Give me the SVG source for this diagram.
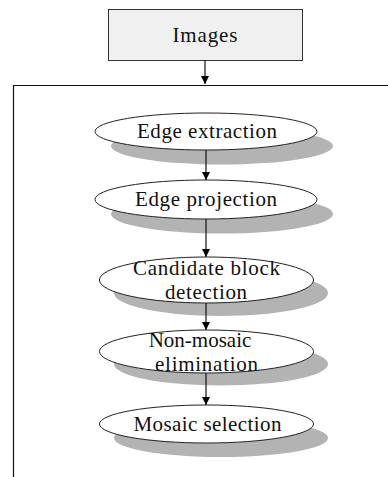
<svg xmlns="http://www.w3.org/2000/svg" width="388" height="477" viewBox="0 0 388 477">
<defs>
<style>
.lbl{font-family:"Liberation Serif","Times New Roman",serif;font-size:21px;fill:#111;text-anchor:middle}
.ell{fill:#fff;stroke:#222;stroke-width:1}
.shd{fill:#b3b3b3;stroke:none}
.ln{stroke:#111;stroke-width:1.2;fill:none}
</style>
<marker id="ah" viewBox="0 0 10 10" refX="10" refY="5" markerWidth="8" markerHeight="10" markerUnits="userSpaceOnUse" orient="auto">
<path d="M0,0 L10,5 L0,10 Z" fill="#000"/>
</marker>
</defs>
<rect width="388" height="477" fill="#fff"/>
<g id="frame">
<path class="ln" d="M13.5,477 L13.5,85.5 L388,85.5" stroke-width="1.5"/>
</g>
<g id="images">
<rect x="108.5" y="9.5" width="194" height="51" fill="#f0f0f0" stroke="#333" stroke-width="1"/>
<text class="lbl" x="205" y="42" textLength="65" lengthAdjust="spacing">Images</text>
</g>
<g id="shadows">
<ellipse class="shd" cx="222" cy="146" rx="111" ry="18.5"/>
<ellipse class="shd" cx="222" cy="214" rx="111" ry="19.5"/>
<ellipse class="shd" cx="221" cy="293" rx="107" ry="23"/>
<ellipse class="shd" cx="221" cy="364" rx="107" ry="21.5"/>
<ellipse class="shd" cx="221" cy="438" rx="107" ry="19"/>
</g>
<g id="n1">
<ellipse class="ell" cx="206" cy="131.5" rx="111" ry="18.5"/>
<text class="lbl" x="207" y="138" textLength="140" lengthAdjust="spacing">Edge extraction</text>
</g>
<g id="n2">
<ellipse class="ell" cx="206" cy="199.5" rx="111" ry="19.5"/>
<text class="lbl" x="206" y="206" textLength="142" lengthAdjust="spacing">Edge projection</text>
</g>
<g id="n3">
<ellipse class="ell" cx="206.5" cy="280" rx="107" ry="23"/>
<text class="lbl" x="206.5" y="275" textLength="147" lengthAdjust="spacing">Candidate block</text>
<text class="lbl" x="206" y="299" textLength="82" lengthAdjust="spacing">detection</text>
</g>
<g id="n4">
<ellipse class="ell" cx="206.5" cy="351.5" rx="107" ry="21.5"/>
<text class="lbl" x="200" y="347">Non-mosaic</text>
<text class="lbl" x="206.5" y="371" textLength="103" lengthAdjust="spacing">elimination</text>
</g>
<g id="n5">
<ellipse class="ell" cx="206.5" cy="424" rx="107" ry="19"/>
<text class="lbl" x="207.5" y="431" textLength="148" lengthAdjust="spacing">Mosaic selection</text>
</g>
<g id="connectors">
<line class="ln" x1="205" y1="60.5" x2="205" y2="84" marker-end="url(#ah)"/>
<line class="ln" x1="206" y1="150" x2="206" y2="180" marker-end="url(#ah)"/>
<line class="ln" x1="206" y1="219" x2="206" y2="257" marker-end="url(#ah)"/>
<line class="ln" x1="206" y1="303" x2="206" y2="330" marker-end="url(#ah)"/>
<line class="ln" x1="206" y1="373" x2="206" y2="405" marker-end="url(#ah)"/>
</g>
</svg>
